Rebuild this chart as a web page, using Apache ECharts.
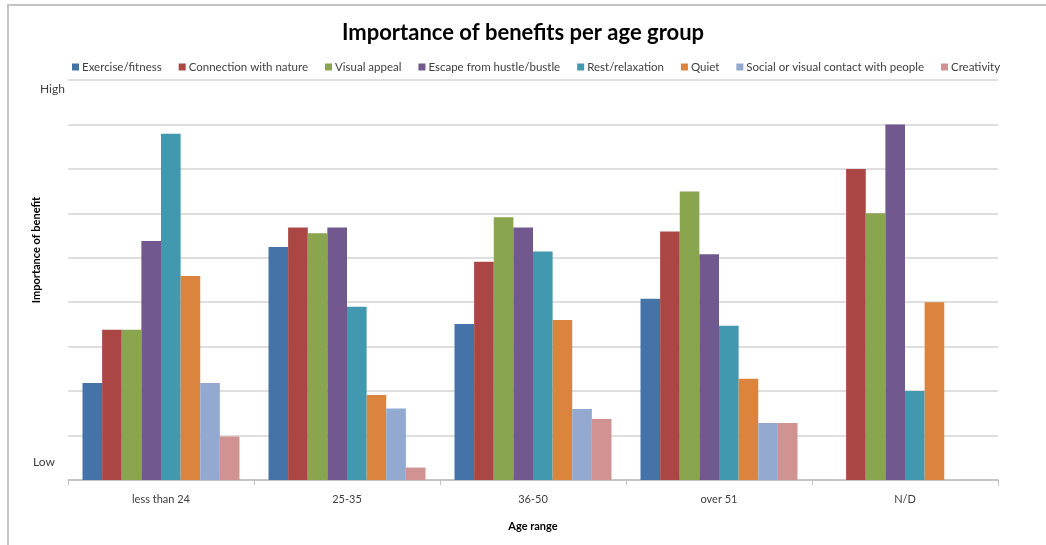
<!DOCTYPE html>
<html>
<head>
<meta charset="utf-8">
<script src="https://cdn.jsdelivr.net/npm/echarts@6/dist/echarts.min.js"></script>
<style>html,body{margin:0;padding:0;background:#fff;}#c{width:1046px;height:545px;}</style>
</head>
<body>
<div id="c"></div>
<script>
const categories = ['less than 24', '25-35', '36-50', 'over 51', 'N/D'];
const seriesNames = ['Exercise/fitness', 'Connection with nature', 'Visual appeal', 'Escape from hustle/bustle', 'Rest/relaxation', 'Quiet', 'Social or visual contact with people', 'Creativity'];
const exercise   = [2.18, 5.24, 3.51, 4.08, null];
const connection = [3.38, 5.68, 4.91, 5.59, 7];
const visual     = [3.38, 5.55, 5.91, 6.49, 6];
const escape     = [5.38, 5.68, 5.68, 5.08, 8];
const rest       = [7.79, 3.90, 5.14, 3.47, 2];
const quiet      = [4.59, 1.91, 3.60, 2.28, 4];
const social     = [2.18, 1.61, 1.60, 1.28, null];
const creativity = [0.98, 0.28, 1.37, 1.28, null];
const yLabels = ['Low', 'High'];

const colors = ['#4572A7', '#AA4643', '#89A54E', '#71588F', '#4198AF', '#DB843D', '#93A9CF', '#D19392'];
const allData = [exercise, connection, visual, escape, rest, quiet, social, creativity];
const font = 'Lato, "Open Sans", sans-serif';

const chart = echarts.init(document.getElementById('c'));
chart.setOption({
  animation: false,
  color: colors,
  textStyle: { fontFamily: font },
  title: {
    text: 'Importance of benefits per age group',
    left: 'center', top: 17,
    textStyle: { fontFamily: font, fontSize: 22, fontWeight: 'bold', color: '#000' }
  },
  legend: {
    top: 56, left: 67,
    icon: 'rect', itemWidth: 7, itemHeight: 7, itemGap: 17,
    textStyle: { fontFamily: font, fontSize: 11.5, color: '#404040', padding: [0, 0, 0, -2] },
    data: seriesNames
  },
  grid: { left: 68, right: 48, top: 80, bottom: 65 },
  xAxis: {
    type: 'category', data: categories,
    axisLine: { lineStyle: { color: '#bfbfbf', width: 1.5 } },
    axisTick: { show: true, length: 5, lineStyle: { color: '#bfbfbf' } },
    axisLabel: { fontFamily: font, fontSize: 11, color: '#404040', margin: 14 },
    name: 'Age range', nameLocation: 'middle', nameGap: 41,
    nameTextStyle: { fontFamily: font, fontSize: 11, fontWeight: 'bold', color: '#000' }
  },
  yAxis: {
    type: 'value', min: 0, max: 9, interval: 1,
    axisLabel: { show: false },
    axisLine: { show: false }, axisTick: { show: false },
    splitLine: { lineStyle: { color: '#d4d4d4', width: 1.5 } }
  },
  graphic: [
    { type: 'rect', shape: { x: 8, y: 5, width: 1100, height: 600 }, style: { fill: 'none', stroke: '#c4c4c4', lineWidth: 2 }, silent: true },
    { type: 'text', left: 40, top: 83, style: { text: yLabels[1], fontFamily: font, fontSize: 12, fill: '#404040' } },
    { type: 'text', left: 33, top: 456, style: { text: yLabels[0], fontFamily: font, fontSize: 12, fill: '#404040' } },
    { type: 'text', x: 36, y: 250, rotation: Math.PI / 2,
      style: { text: 'Importance of benefit', fontFamily: font, fontSize: 11, fontWeight: 'bold', fill: '#000', align: 'center', verticalAlign: 'middle' } }
  ],
  series: seriesNames.map((n, i) => ({
    name: n, type: 'bar', data: allData[i],
    barGap: '0%', barCategoryGap: '15.6%',
    itemStyle: { color: colors[i] }
  }))
});
</script>
</body>
</html>
